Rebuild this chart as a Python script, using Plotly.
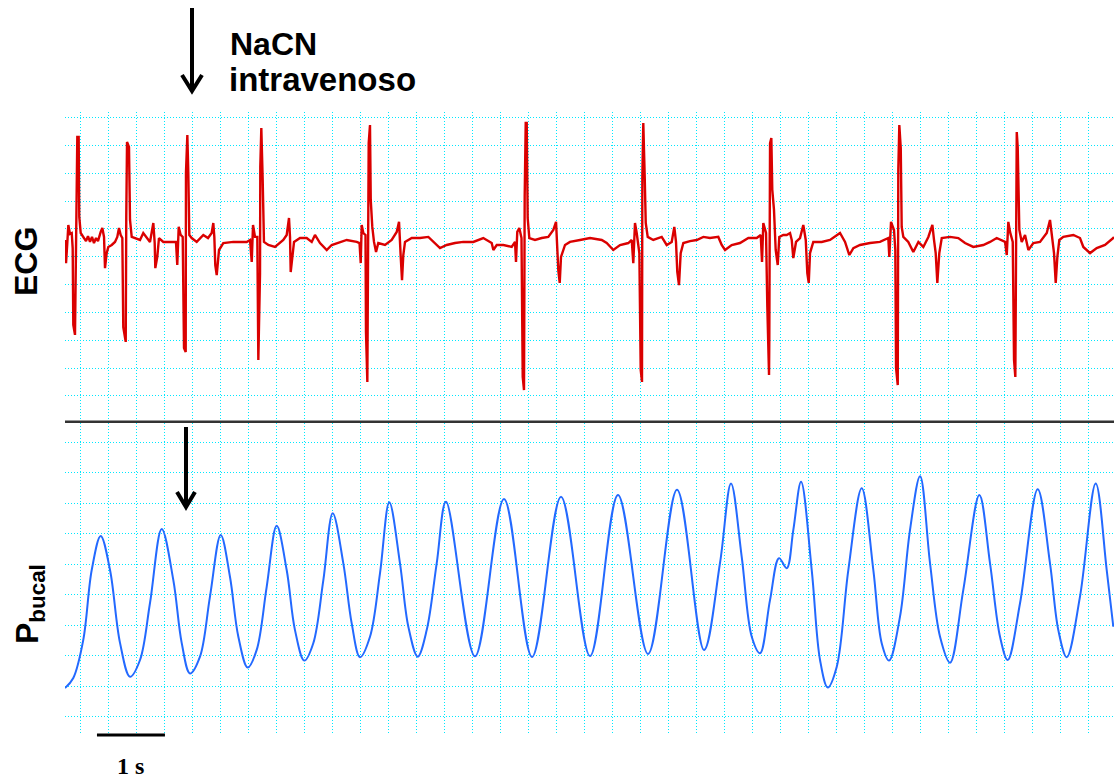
import plotly.graph_objects as go

# ---- ECG trace: time (s) and amplitude (grid divisions) ----
ecg_t = [
    0.000, 0.015, 0.034, 0.049, 0.074, 0.099, 0.113, 0.122, 0.147, 0.162,
    0.172, 0.181, 0.201, 0.210, 0.231, 0.269, 0.309, 0.338, 0.368, 0.397,
    0.426, 0.456, 0.485, 0.525, 0.549, 0.574, 0.588, 0.613, 0.637, 0.687,
    0.735, 0.769, 0.794, 0.819, 0.843, 0.857, 0.893, 0.901, 0.912, 0.941,
    0.956, 0.981, 1.029, 1.103, 1.151, 1.201, 1.250, 1.299, 1.319, 1.328,
    1.357, 1.382, 1.446, 1.544, 1.632, 1.651, 1.672, 1.701, 1.731, 1.750,
    1.775, 1.779, 1.799, 1.813, 1.828, 1.863, 1.937, 2.034, 2.103, 2.157,
    2.181, 2.196, 2.210, 2.231, 2.265, 2.328, 2.475, 2.672, 2.721, 2.746,
    2.765, 2.794, 2.828, 2.843, 2.868, 2.872, 2.887, 2.907, 2.926, 2.990,
    3.088, 3.210, 3.260, 3.294, 3.309, 3.319, 3.343, 3.368, 3.456, 3.554,
    3.628, 3.676, 3.750, 3.849, 3.922, 4.019, 4.143, 4.290, 4.331, 4.349,
    4.363, 4.387, 4.419, 4.426, 4.446, 4.451, 4.466, 4.485, 4.496, 4.519,
    4.544, 4.574, 4.607, 4.706, 4.804, 4.878, 4.912, 4.937, 4.956, 4.975,
    5.000, 5.099, 5.221, 5.343, 5.441, 5.515, 5.613, 5.735, 5.857, 6.004,
    6.151, 6.201, 6.275, 6.299, 6.349, 6.446, 6.569, 6.618, 6.632, 6.651,
    6.681, 6.713, 6.731, 6.750, 6.760, 6.775, 6.790, 6.804, 6.828, 6.912,
    7.010, 7.107, 7.181, 7.221, 7.240, 7.254, 7.275, 7.294, 7.353, 7.426,
    7.574, 7.721, 7.893, 7.966, 8.063, 8.162, 8.284, 8.334, 8.357, 8.382,
    8.407, 8.446, 8.466, 8.485, 8.490, 8.504, 8.525, 8.540, 8.569, 8.651,
    8.775, 8.848, 8.922, 8.960, 8.985, 9.004, 9.029, 9.054, 9.093, 9.191,
    9.290, 9.387, 9.485, 9.607, 9.657, 9.706, 9.804, 9.926, 10.049, 10.172,
    10.231, 10.250, 10.269, 10.309, 10.328, 10.353, 10.357, 10.368, 10.387, 10.401,
    10.426, 10.451, 10.481, 10.504, 10.563, 10.613, 10.662, 10.687, 10.710, 10.750,
    10.809, 10.857, 10.893, 10.916, 10.937, 10.956, 11.004, 11.128, 11.250, 11.397,
    11.471, 11.534, 11.593, 11.691, 11.838, 11.985, 12.107, 12.122, 12.147, 12.191,
    12.210, 12.221, 12.246, 12.254, 12.269, 12.290, 12.304, 12.328, 12.401, 12.475,
    12.549, 12.622, 12.696, 12.755, 12.779, 12.804, 12.828, 12.857, 12.893, 13.015,
    13.137, 13.235, 13.357, 13.504, 13.603, 13.701, 13.824, 13.849, 13.872, 13.897,
    13.937, 13.956, 13.975, 13.985, 13.996, 14.010, 14.034, 14.069, 14.118, 14.167,
    14.240, 14.338, 14.437, 14.485, 14.510, 14.544, 14.569, 14.593, 14.622, 14.681,
    14.828, 14.926, 14.975, 15.074, 15.172, 15.294, 15.416, 15.426,
]
ecg_v = [
    0.60, -0.23, 0.49, 1.14, 0.82, 0.85, 0.31, -2.45, -2.81, -0.12,
    1.43, 4.30, 4.30, 1.43, 0.85, 0.71, 0.56, 0.74, 0.53, 0.71,
    0.49, 0.67, 0.56, 0.89, 1.03, 0.71, -0.41, 0.13, 0.35, 0.42,
    0.53, 0.71, 1.03, 0.78, 0.67, -2.53, -3.06, 1.43, 4.12, 3.94,
    1.32, 0.71, 0.67, 0.60, 0.85, 0.67, 0.53, 1.21, 0.49, -0.41,
    -0.01, 0.67, 0.53, 0.53, 0.53, -0.30, 1.07, 0.78, 0.71, -3.28,
    -3.42, 3.01, 4.37, 3.04, 0.78, 0.67, 0.53, 0.78, 0.67, 0.85,
    1.21, 0.71, -0.30, -0.66, 0.24, 0.49, 0.53, 0.53, 0.60, -0.19,
    1.14, 0.71, 0.71, -3.71, -0.59, 3.22, 4.62, 2.76, 0.53, 0.42,
    0.35, 0.60, 0.78, 1.39, 0.71, -0.55, 0.13, 0.53, 0.67, 0.67,
    0.53, 0.78, 0.49, 0.24, 0.42, 0.49, 0.60, 0.53, 0.49, -0.23,
    1.14, 0.85, 0.78, -2.70, -4.50, -2.35, 4.08, 4.73, 2.04, 1.07,
    0.53, 0.17, 0.49, 0.42, 0.60, 0.89, 1.25, -0.01, -0.84, 0.06,
    0.53, 0.67, 0.67, 0.71, 0.49, 0.31, 0.42, 0.49, 0.53, 0.53,
    0.67, 0.60, 0.49, 0.24, 0.42, 0.42, 0.35, 0.53, -0.19, 0.89,
    1.03, 0.67, -4.32, -4.79, 2.15, 4.80, 4.80, 1.39, 0.67, 0.60,
    0.67, 0.71, 0.96, 1.25, 0.35, -0.48, -0.94, -0.01, 0.42, 0.53,
    0.60, 0.67, 0.60, 0.49, 0.24, 0.42, 0.49, 0.60, -0.23, 1.21,
    0.85, 0.13, -4.07, -4.50, 2.86, 4.80, 2.86, 1.21, 0.71, 0.60,
    0.71, 0.42, 0.53, 1.07, 0.53, -0.55, -1.02, 0.13, 0.49, 0.56,
    0.60, 0.71, 0.67, 0.71, 0.42, 0.24, 0.42, 0.49, 0.67, 0.67,
    0.78, -0.19, 1.21, 0.85, -1.81, -4.25, -2.99, 4.08, 4.26, 2.40,
    1.68, 0.24, -0.30, 0.71, 0.78, 0.78, 0.85, 0.60, -0.05, 0.53,
    0.67, 1.14, 0.60, -0.59, -0.94, 0.13, 0.53, 0.53, 0.60, 0.85,
    0.53, 0.06, 0.31, 0.42, 0.49, 0.53, 0.67, -0.01, 1.25, 0.96,
    0.24, -4.00, -4.61, 3.11, 4.73, 3.90, 1.07, 0.71, 0.53, 0.17,
    0.53, 0.35, 0.71, 1.14, 0.60, 0.13, -0.94, 0.13, 0.67, 0.71,
    0.67, 0.49, 0.35, 0.42, 0.53, 0.67, 0.53, 0.06, 1.25, 0.89,
    0.53, -3.71, -4.32, 2.76, 4.48, 3.94, 0.96, 0.53, 0.78, 0.24,
    0.49, 0.53, 0.85, 1.32, 0.71, 0.13, -0.94, -0.01, 0.60, 0.71,
    0.78, 0.67, 0.35, 0.13, 0.31, 0.42, 0.67, 0.71,
]

# ---- Buccal pressure trace: time (s) and pressure (grid divisions) ----
resp_t = [
    0.000, 0.122, 0.269, 0.393, 0.525, 0.662, 0.809, 0.956, 1.103, 1.250,
    1.422, 1.593, 1.716, 1.838, 1.985, 2.132, 2.290, 2.426, 2.549, 2.687,
    2.819, 2.966, 3.113, 3.260, 3.382, 3.519, 3.651, 3.799, 3.937, 4.093,
    4.216, 4.338, 4.485, 4.632, 4.769, 4.926, 5.049, 5.187, 5.319, 5.466,
    5.603, 6.029, 6.456, 6.868, 7.294, 7.721, 8.132, 8.574, 9.000, 9.397,
    9.632, 9.794, 9.951, 10.099, 10.221, 10.368, 10.500, 10.613, 10.710, 10.824,
    10.981, 11.103, 11.216, 11.349, 11.519, 11.716, 11.887, 12.010, 12.118, 12.279,
    12.426, 12.574, 12.721, 12.868, 13.015, 13.210, 13.446, 13.603, 13.750, 13.863,
    14.044, 14.304, 14.485, 14.607, 14.731, 14.926, 15.157, 15.319, 15.416,
]
resp_p = [
    0.94, 1.27, 2.52, 4.81, 5.93, 4.81, 2.42, 1.31, 1.86, 3.73,
    6.16, 4.48, 2.42, 1.42, 1.97, 3.94, 5.96, 4.59, 2.62, 1.61,
    2.19, 4.26, 6.26, 4.81, 2.84, 1.84, 2.41, 4.48, 6.67, 5.03,
    3.06, 1.95, 2.62, 4.70, 7.03, 5.03, 2.95, 1.97, 2.84, 5.03,
    7.05, 1.98, 7.14, 1.96, 7.21, 1.99, 7.27, 2.06, 7.44, 2.19,
    5.04, 7.65, 5.25, 2.62, 2.08, 3.83, 5.20, 4.87, 6.12, 7.71,
    4.81, 1.86, 0.96, 1.64, 4.81, 7.49, 4.81, 2.41, 1.84, 3.28,
    6.12, 7.89, 5.03, 2.62, 1.77, 4.16, 7.27, 5.03, 2.62, 1.86,
    3.72, 7.46, 5.03, 2.84, 1.95, 3.94, 7.65, 4.81, 2.95,
]

# time-scale bar
bar_start_s = 0.47
bar_len_s = 1.0

# chart grid and view window
t_max = 15.426
grid_dt = 0.41147
grid_t0 = 0.2309
ecg_range = [-5.902, 5.197]
resp_range = [-0.535, 9.633]

W, H = 1114, 780
LEFT = 65
GRID_COLOR = "rgb(0,232,255)"
FONT = "Liberation Sans, Arial, sans-serif"


def px(x):
    return x / W


def py(y):
    return 1 - y / H


fig = go.Figure()
fig.add_trace(go.Scatter(
    x=ecg_t, y=ecg_v, xaxis="x", yaxis="y", mode="lines",
    line=dict(color="rgb(218,0,0)", width=2.4), hoverinfo="skip",
))
fig.add_trace(go.Scatter(
    x=resp_t, y=resp_p, xaxis="x2", yaxis="y2", mode="lines",
    line=dict(color="rgb(35,105,255)", width=2, shape="spline", smoothing=1),
    hoverinfo="skip",
))

common_x = dict(
    range=[0, t_max], domain=[px(LEFT), 1], showgrid=True, gridcolor=GRID_COLOR,
    griddash="1px,2px", gridwidth=1, tick0=grid_t0, dtick=grid_dt,
    showticklabels=False, ticks="", zeroline=False, showline=False,
)
common_y = dict(
    showgrid=True, gridcolor=GRID_COLOR, griddash="1px,2px", gridwidth=1,
    tick0=0, dtick=1, showticklabels=False, ticks="", zeroline=False, showline=False,
)

fig.update_layout(
    width=W, height=H, margin=dict(l=0, r=0, t=0, b=0),
    paper_bgcolor="white", plot_bgcolor="white", showlegend=False,
    xaxis=dict(**common_x, anchor="y"),
    yaxis=dict(**common_y, range=ecg_range, domain=[py(421), py(112)], anchor="x"),
    xaxis2=dict(**common_x, anchor="y2"),
    yaxis2=dict(**common_y, range=resp_range, domain=[py(733), py(423)], anchor="x2"),
)

# separator between panels and time-scale bar
fig.add_shape(type="line", xref="paper", yref="paper",
              x0=px(LEFT), x1=1, y0=py(421.7), y1=py(421.7),
              line=dict(color="#333333", width=2.5))
fig.add_shape(type="line", xref="x2", yref="paper",
              x0=bar_start_s, x1=bar_start_s + bar_len_s, y0=py(735), y1=py(735),
              line=dict(color="black", width=3))


def add_arrow(x, y_top, y_tip, half_w, head_h):
    """Downward arrow with an open chevron head, in page pixels."""
    fig.add_shape(type="line", xref="paper", yref="paper",
                  x0=px(x), x1=px(x), y0=py(y_top), y1=py(y_tip - 1),
                  line=dict(color="black", width=4))
    path = (f"M {px(x - half_w)},{py(y_tip - head_h)} "
            f"L {px(x)},{py(y_tip)} L {px(x + half_w)},{py(y_tip - head_h)}")
    fig.add_shape(type="path", xref="paper", yref="paper", path=path,
                  line=dict(color="black", width=4))


# injection markers
add_arrow(192, 8, 91, 10, 16)
add_arrow(186, 427, 507, 9, 15)

annotations = [
    dict(text="NaCN", x=px(228), y=py(44), xanchor="left", yanchor="middle",
         font=dict(family=FONT, size=32, color="black", weight="bold")),
    dict(text="intravenoso", x=px(227), y=py(80), xanchor="left", yanchor="middle",
         font=dict(family=FONT, size=33, color="black", weight="bold")),
    dict(text="ECG", x=px(26), y=py(262), xanchor="center", yanchor="middle",
         textangle=-90, font=dict(family=FONT, size=32, color="black", weight="bold")),
    dict(text="P<sub>bucal</sub>", x=px(29), y=py(604), xanchor="center", yanchor="middle",
         textangle=-90, font=dict(family=FONT, size=32, color="black", weight="bold")),
    dict(text="1 s", xref="x2", yref="paper", x=bar_start_s + bar_len_s / 2, y=py(766),
         xanchor="center", yanchor="middle",
         font=dict(family="Liberation Serif, Times New Roman, serif", size=24,
                   color="black", weight="bold")),
]
for a in annotations:
    a.setdefault("xref", "paper")
    a.setdefault("yref", "paper")
    a.setdefault("showarrow", False)
    fig.add_annotation(**a)

fig.write_html("out.html")
